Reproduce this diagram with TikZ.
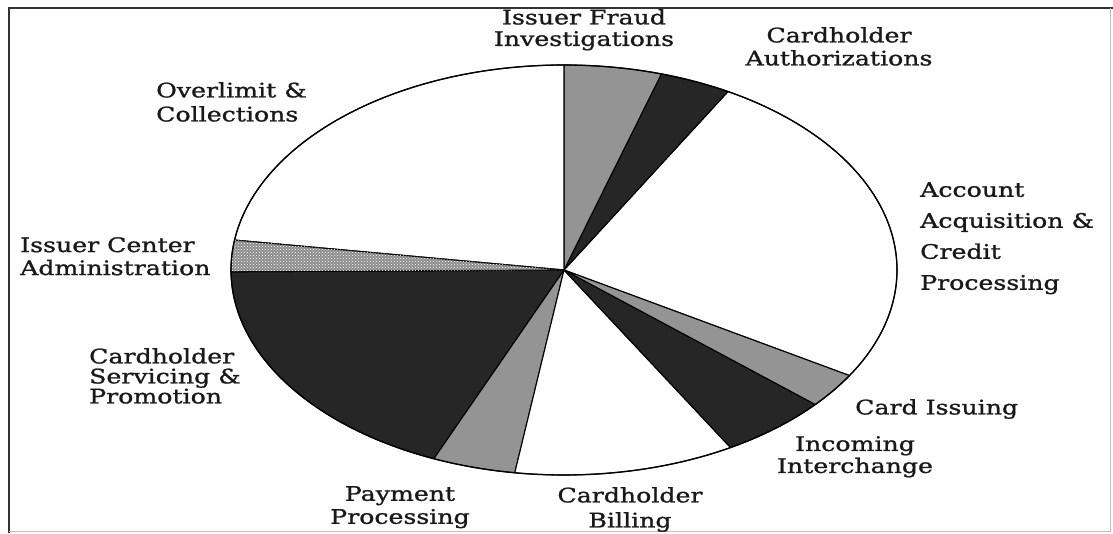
\documentclass[tikz,border=0pt]{standalone}
\usepackage{fontspec}
\setmainfont{DejaVu Serif}[FakeStretch=1.26,FakeBold=1.2]
\usetikzlibrary{patterns}
\begin{document}
\begin{tikzpicture}[x=1pt,y=1pt,
  slice/.style={draw=black,line width=1.1pt,line join=round},
  darkslice/.style={slice,fill=black!85},
  grayslice/.style={slice,fill=black!42},
  whiteslice/.style={slice,fill=white},
  lbl/.style={inner sep=0pt,font=\fontsize{20}{23}\selectfont,text=black!90}]
\useasboundingbox (0,0) rectangle (1113,533);
% frame
\draw[black!80,line width=2pt] (9,0) -- (9,525) -- (1113,525);
\draw[black!25,line width=1pt] (9,2) -- (1110,2) -- (1110,525);
% pie: centre at (564,263), radii 333 x 205
\begin{scope}[shift={(564,263)}]
  \newcommand\pieslice[3]{%
    \path[#3] (0,0) -- (#1:333 and 205)
      arc[start angle=#1,end angle=#2,x radius=333,y radius=205] -- cycle;}
  \pieslice{-31}{60.5}{whiteslice}   % account acquisition
  \pieslice{60.5}{73}{darkslice}     % authorizations
  \pieslice{73}{90}{grayslice}       % fraud investigations
  \pieslice{90}{171.6}{whiteslice}   % overlimit
  \pieslice{180.5}{247}{darkslice}   % servicing
  \pieslice{247}{261.5}{grayslice}   % payment
  \pieslice{261.5}{300}{whiteslice}  % billing
  \pieslice{300}{319}{darkslice}     % incoming interchange
  \pieslice{319}{329}{grayslice}     % card issuing
  % center administration: dotted fill
  \path[slice,fill=black!45] (0,0) -- (171.6:333 and 205)
      arc[start angle=171.6,end angle=180.5,x radius=333,y radius=205] -- cycle;
  \path[pattern=crosshatch dots,pattern color=white] (0,0) -- (171.6:333 and 205)
      arc[start angle=171.6,end angle=180.5,x radius=333,y radius=205] -- cycle;
  \draw[line width=1.3pt] (0,0) ellipse[x radius=333,y radius=205];
\end{scope}
% labels
\node[lbl,anchor=north,align=center,font=\fontsize{20}{21.5}\selectfont] (fraud) at (584,524) {Issuer Fraud\\Investigations};
\node[lbl,anchor=north,align=center] (auth) at (839,506) {Cardholder\\Authorizations};
\node[lbl,anchor=north west,align=left,font=\fontsize{20}{24}\selectfont] (over) at (156,451) {Overlimit \&\\Collections};
\node[lbl,anchor=north west,align=left,font=\fontsize{20}{31}\selectfont] (acq) at (920,351) {Account\\Acquisition \&\\Credit\\Processing};
\node[lbl,anchor=north west,align=left] (admin) at (20,296) {Issuer Center\\Administration};
\node[lbl,anchor=north west,align=left,font=\fontsize{20}{20}\selectfont] (serv) at (89,185) {Cardholder\\Servicing \&\\Promotion};
\node[lbl,anchor=north west] (issue) at (855,134) {Card Issuing};
\node[lbl,anchor=north,align=center,font=\fontsize{20}{22}\selectfont] (incoming) at (855,97) {Incoming\\Interchange};
\node[lbl,anchor=north,align=center] (payment) at (400,47) {Payment\\Processing};
\node[lbl,anchor=north,align=center,font=\fontsize{20}{25}\selectfont] (billing) at (630,46) {Cardholder\\Billing};
\end{tikzpicture}
\end{document}
